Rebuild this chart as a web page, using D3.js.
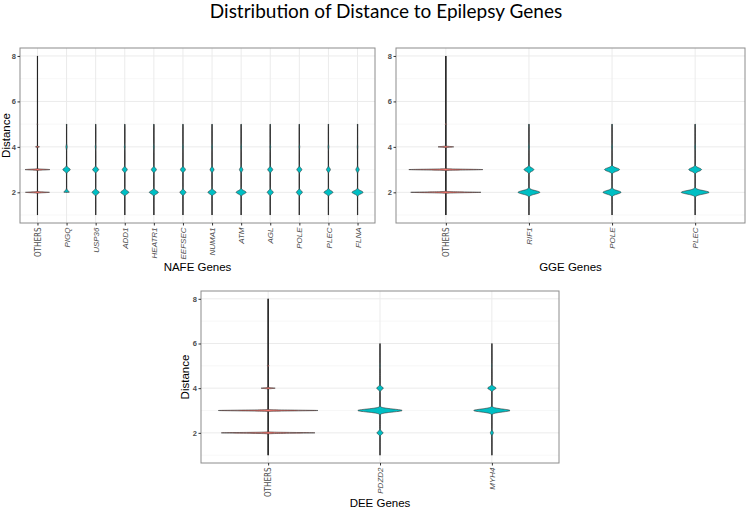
<!DOCTYPE html>
<html><head><meta charset="utf-8">
<script src="https://cdn.jsdelivr.net/npm/d3@7"></script>
<style>body{margin:0;background:#fff}svg{display:block}</style>
</head><body>
<script>
// ---------- DATA ----------
const distanceTicks = [2, 4, 6, 8];
const distanceMinor = [1, 3, 5, 7];

// NAFE panel
const nafeGenes = ["OTHERS","PIGQ","USP36","ADD1","HEATR1","EEFSEC","NUMA1","ATM","AGL","POLE","PLEC","FLNA"];
const nafeMin   = [1,2,1,1,1,1,1,1,1,1,1,1];
const nafeMax   = [8,5,5,5,5,5,5,5,5,5,5,5];
const nafeAt2   = [0.92,0.20,0.27,0.31,0.34,0.23,0.31,0.38,0.23,0.23,0.34,0.42];
const nafeAt3   = [0.95,0.28,0.23,0.19,0.19,0.19,0.15,0.13,0.19,0.19,0.15,0.13];
const nafeAt4   = [0.15,0.05,0.03,0.03,0.03,0.03,0.03,0.03,0.03,0.03,0.03,0.02];
const nafeAt5   = [0.02,0.01,0.01,0.01,0.01,0.01,0.01,0.01,0.01,0.01,0.01,0.01];
const nafeBw    = [0.016,0.07,0.07,0.07,0.07,0.07,0.07,0.07,0.07,0.07,0.07,0.07];

// GGE panel
const ggeGenes = ["OTHERS","RIF1","POLE","PLEC"];
const ggeMin   = [1,1,1,1];
const ggeMax   = [8,5,5,5];
const ggeAt2   = [0.94,0.29,0.24,0.37];
const ggeAt3   = [0.99,0.13,0.20,0.17];
const ggeAt4   = [0.21,0.01,0.01,0.01];
const ggeAt5   = [0.02,0.005,0.005,0.005];
const ggeBw    = [0.016,0.075,0.075,0.075];

// DEE panel
const deeGenes = ["OTHERS","PDZD2","MYH4"];
const deeMin   = [1,1,1];
const deeMax   = [8,6,6];
const deeAt2   = [0.93,0.06,0.03];
const deeAt3   = [0.99,0.44,0.36];
const deeAt4   = [0.14,0.065,0.083];
const deeAt5   = [0.02,0.004,0.004];
const deeBw    = [0.016,0.065,0.065];

// ---------- DRAW ----------
const W = 747, H = 510;
const svg = d3.select("body").append("svg").attr("width", W).attr("height", H);
const FONT = "'Liberation Sans', Arial, sans-serif";
const NARROW = "'Liberation Sans Narrow', 'DejaVu Sans Condensed', 'Liberation Sans', sans-serif";

svg.append("text").attr("x", 386).attr("y", 18).attr("text-anchor", "middle")
  .attr("font-family", "Lato, 'Open Sans', sans-serif").attr("font-size", 19)
  .attr("fill", "#000").text("Distribution of Distance to Epilepsy Genes");

function panel(opts) {
  const {left, right, top, bottom, genes, mins, maxs, at2, at3, at4, at5, bw, xTitle, xTitleY, yTitle} = opts;
  const g = svg.append("g");
  const x = d3.scalePoint().domain(genes).range([left, right]).padding(0.6);
  const y = d3.scaleLinear().domain([0.65, 8.35]).range([bottom, top]);
  const step = x.step();
  const wScale = d3.scaleLinear().domain([0, 1]).range([0, 0.45 * step]);

  g.append("rect").attr("x", left).attr("y", top).attr("width", right - left).attr("height", bottom - top).attr("fill", "#fff");
  g.selectAll(".ymin").data(distanceMinor).join("line")
    .attr("x1", left).attr("x2", right).attr("y1", d => y(d)).attr("y2", d => y(d))
    .attr("stroke", "#F2F2F2").attr("stroke-width", 0.6);
  g.selectAll(".ymaj").data(distanceTicks).join("line")
    .attr("x1", left).attr("x2", right).attr("y1", d => y(d)).attr("y2", d => y(d))
    .attr("stroke", "#EBEBEB").attr("stroke-width", 1);
  g.selectAll(".xmaj").data(genes).join("line")
    .attr("x1", d => x(d)).attr("x2", d => x(d)).attr("y1", top).attr("y2", bottom)
    .attr("stroke", "#EBEBEB").attr("stroke-width", 1);

  genes.forEach((gene, i) => {
    const cx = x(gene);
    const peaks = [[2, at2[i]], [3, at3[i]], [4, at4[i]], [5, at5[i]]];
    const b = bw[i];
    const stepV = b / 8;
    const pts = d3.range(mins[i], maxs[i] + stepV / 2, stepV).map(v => {
      let dens = 0;
      peaks.forEach(([k, p]) => { dens += p * Math.exp(-0.5 * ((v - k) / b) ** 2); });
      return {v: Math.min(v, maxs[i]), w: wScale(dens)};
    });
    g.append("line").attr("x1", cx).attr("x2", cx).attr("y1", y(mins[i])).attr("y2", y(maxs[i]))
      .attr("stroke", "#404040").attr("stroke-width", 1.2);
    const area = d3.area().y(d => y(d.v)).x0(d => cx - d.w).x1(d => cx + d.w);
    g.append("path").attr("d", area(pts))
      .attr("fill", gene === "OTHERS" ? "#F8766D" : "#00BFC4")
      .attr("stroke", "#333").attr("stroke-width", 0.6);
  });

  g.append("rect").attr("x", left).attr("y", top).attr("width", right - left).attr("height", bottom - top)
    .attr("fill", "none").attr("stroke", "#8c8c8c").attr("stroke-width", 1);

  const ya = g.append("g").attr("transform", `translate(${left},0)`)
    .call(d3.axisLeft(y).tickValues(distanceTicks).tickSize(2.5).tickPadding(1.5).tickFormat(d3.format("d")));
  ya.select(".domain").remove();
  ya.selectAll("line").attr("stroke", "#333");
  ya.selectAll("text").attr("font-family", FONT).attr("font-size", 7.5).attr("font-weight", "bold").attr("fill", "#4D4D4D");

  const xa = g.append("g").attr("transform", `translate(0,${bottom})`)
    .call(d3.axisBottom(x).tickSize(2.5).tickPadding(2));
  xa.select(".domain").remove();
  xa.selectAll("line").attr("stroke", "#333");
  xa.selectAll("text")
    .attr("font-family", d => d === "OTHERS" ? NARROW : FONT).attr("font-size", 8).attr("fill", "#4D4D4D")
    .attr("font-style", d => d === "OTHERS" ? "normal" : "italic")
    .attr("text-anchor", "end").attr("dy", "0.32em")
    .attr("transform", "rotate(-90)").attr("x", -4.5).attr("y", 0);

  g.append("text").attr("x", (left + right) / 2).attr("y", xTitleY).attr("text-anchor", "middle")
    .attr("font-family", FONT).attr("font-size", 11.5).attr("fill", "#000").text(xTitle);
  if (yTitle) {
    g.append("text").attr("transform", `translate(${yTitle},${(top + bottom) / 2}) rotate(-90)`)
      .attr("text-anchor", "middle").attr("font-family", FONT).attr("font-size", 11.5).attr("fill", "#000").text("Distance");
  }
}

panel({left: 20, right: 375, top: 48, bottom: 223, genes: nafeGenes, mins: nafeMin, maxs: nafeMax,
  at2: nafeAt2, at3: nafeAt3, at4: nafeAt4, at5: nafeAt5, bw: nafeBw, xTitle: "NAFE Genes", xTitleY: 271, yTitle: 10});
panel({left: 396, right: 745, top: 48, bottom: 223, genes: ggeGenes, mins: ggeMin, maxs: ggeMax,
  at2: ggeAt2, at3: ggeAt3, at4: ggeAt4, at5: ggeAt5, bw: ggeBw, xTitle: "GGE Genes", xTitleY: 271, yTitle: null});
panel({left: 201, right: 559, top: 291, bottom: 463, genes: deeGenes, mins: deeMin, maxs: deeMax,
  at2: deeAt2, at3: deeAt3, at4: deeAt4, at5: deeAt5, bw: deeBw, xTitle: "DEE Genes", xTitleY: 507, yTitle: 189});
</script>
</body></html>
